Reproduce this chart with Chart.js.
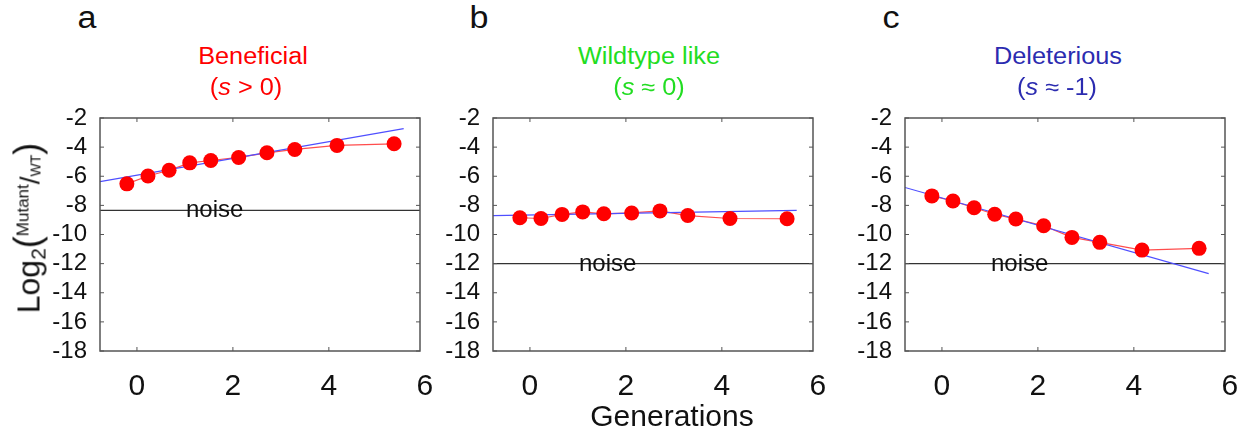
<!DOCTYPE html>
<html>
<head>
<meta charset="utf-8">
<script src="https://cdn.jsdelivr.net/npm/chart.js@4.4.1/dist/chart.umd.min.js"></script>
<style>
  body { margin: 0; background: #fff; }
  #wrap { position: relative; width: 1251px; height: 434px; overflow: hidden; background: #fff;
          font-family: "Liberation Sans", Arial, sans-serif; color: #111; }
  canvas { position: absolute; top: 98px; }
  .t { position: absolute; white-space: nowrap; line-height: 1; transform: translate(-50%, -50%) scaleX(1.1); }
  .letter { font-size: 31px; }
  .title { font-size: 23px; }
  .noise { position: absolute; white-space: nowrap; line-height: 1; font-size: 24px; color: #111;
           transform: translate(-50%, -50%); }
  #ylab { position: absolute; left: 29px; top: 228px; white-space: nowrap; line-height: 1;
          transform: translate(-50%, -50%) rotate(-90deg); font-size: 32px; }
  #ylab .sub2 { font-size: 21px; vertical-align: -6px; }
  #ylab .paren { font-size: 36px; }
  #ylab .sup { font-size: 17px; vertical-align: 11px; }
  #ylab .slash { font-size: 28px; }
  #ylab .wt { font-size: 14px; vertical-align: -1px; }
</style>
</head>
<body>
<div id="wrap">
  <canvas id="chartA" width="420" height="313" style="left:30px"></canvas>
  <canvas id="chartB" width="420" height="313" style="left:423px"></canvas>
  <canvas id="chartC" width="420" height="313" style="left:835px"></canvas>

  <div class="t letter" style="left:87px; top:17px">a</div>
  <div class="t letter" style="left:479px; top:17px">b</div>
  <div class="t letter" style="left:891px; top:17px">c</div>

  <div class="t title" style="left:253px; top:56px; color:#ff0000">Beneficial</div>
  <div class="t title" style="left:246px; top:87px; color:#ff0000">(<i>s</i> &gt; 0)</div>
  <div class="t title" style="left:649px; top:56px; color:#22dd22">Wildtype like</div>
  <div class="t title" style="left:649px; top:87px; color:#22dd22">(<i>s</i> ≈ 0)</div>
  <div class="t title" style="left:1058px; top:56px; color:#2b2bb0">Deleterious</div>
  <div class="t title" style="left:1057px; top:87px; color:#2b2bb0">(<i>s</i> ≈ -1)</div>

  <div class="noise" id="noiseA">noise</div>
  <div class="noise" id="noiseB">noise</div>
  <div class="noise" id="noiseC">noise</div>

  <div id="ylab">Log<span class="sub2">2</span><span class="paren">(</span><span class="sup">Mutant</span><span class="slash">/</span><span class="wt">WT</span><span class="paren">)</span></div>
  <div class="t" style="left:672px; top:416px; font-size:30px; transform:translate(-50%,-50%)">Generations</div>
</div>

<script>
// x positions of the samples (generations)
const generations = [-0.21, 0.23, 0.67, 1.10, 1.54, 2.12, 2.71, 3.29, 4.17, 5.36];

// log2(mutant/WT) per panel
const beneficial = [-6.52, -5.98, -5.59, -5.08, -4.92, -4.71, -4.39, -4.16, -3.88, -3.77];
const wildtype = [-8.85, -8.90, -8.62, -8.45, -8.58, -8.52, -8.38, -8.70, -8.90, -8.92];
const deleterious = [-7.35, -7.70, -8.16, -8.61, -8.94, -9.40, -10.20, -10.54, -11.07, -10.95];

// noise floor and fitted line ends, one per panel
const noiseLevels = [-8.35, -12, -12];
const noiseLabelX = 1.62;
const fitStart = [-6.37, -8.71, -6.77];
const fitEnd = [-2.73, -8.35, -12.69];
const fitEndX = 5.56;

const xMin = -0.77, xMax = 5.9;
const xTicks = [0, 2, 4, 6];
const yTicks = [-2, -4, -6, -8, -10, -12, -14, -16, -18];

// frame round the plot area with small inward ticks
const framePlugin = {
    id: 'frame',
    afterDraw(chart) {
        const { ctx, chartArea: a, scales } = chart;
        ctx.save();
        ctx.strokeStyle = '#555';
        ctx.lineWidth = 1.5;
        ctx.strokeRect(a.left, a.top, a.right - a.left, a.bottom - a.top);
        ctx.lineWidth = 1;
        ctx.beginPath();
        yTicks.forEach(v => {
            const y = scales.y.getPixelForValue(v);
            ctx.moveTo(a.left, y); ctx.lineTo(a.left + 4, y);
            ctx.moveTo(a.right, y); ctx.lineTo(a.right - 4, y);
        });
        xTicks.forEach(v => {
            if (v > xMax) return;
            const x = scales.x.getPixelForValue(v);
            ctx.moveTo(x, a.bottom); ctx.lineTo(x, a.bottom - 4);
            ctx.moveTo(x, a.top); ctx.lineTo(x, a.top + 4);
        });
        ctx.stroke();
        ctx.restore();
    }
};

function makePanel(id, values, idx, labelId) {
    const pts = generations.map((g, i) => ({ x: g, y: values[i] }));
    const canvas = document.getElementById(id);
    const chart = new Chart(canvas, {
        type: 'scatter',
        data: {
            datasets: [
                {
                    // markers on top
                    data: pts,
                    showLine: false,
                    pointRadius: 7.5,
                    pointBackgroundColor: '#ff0000',
                    pointBorderWidth: 0,
                    order: 0
                },
                {
                    // fitted line
                    data: [{ x: xMin, y: fitStart[idx] }, { x: fitEndX, y: fitEnd[idx] }],
                    showLine: true,
                    borderColor: '#4f4fff',
                    borderWidth: 1.2,
                    pointRadius: 0,
                    order: 1
                },
                {
                    // thin red line joining the points
                    data: pts,
                    showLine: true,
                    borderColor: '#ff4d4d',
                    borderWidth: 1.2,
                    pointRadius: 0,
                    order: 2
                },
                {
                    // noise floor
                    data: [{ x: xMin, y: noiseLevels[idx] }, { x: xMax, y: noiseLevels[idx] }],
                    showLine: true,
                    borderColor: '#333',
                    borderWidth: 1.3,
                    pointRadius: 0,
                    order: 3
                }
            ]
        },
        options: {
            responsive: false,
            animation: false,
            devicePixelRatio: 1,
            layout: { padding: { top: 20, right: 30, left: 0, bottom: 0 } },
            plugins: { legend: { display: false }, tooltip: { enabled: false } },
            scales: {
                x: {
                    type: 'linear',
                    min: xMin,
                    max: xMax,
                    afterBuildTicks: s => { s.ticks = xTicks.map(v => ({ value: v })); },
                    afterFit: s => { s.height = 60; },
                    grid: { display: false },
                    border: { display: false },
                    ticks: {
                        autoSkip: false,
                        maxRotation: 0,
                        padding: 10,
                        color: '#111',
                        font: { family: '"Liberation Sans", Arial, sans-serif', size: 30 }
                    }
                },
                y: {
                    min: -18,
                    max: -2,
                    afterBuildTicks: s => { s.ticks = yTicks.map(v => ({ value: v })); },
                    afterFit: s => { s.width = 70; },
                    grid: { display: false },
                    border: { display: false },
                    ticks: {
                        autoSkip: false,
                        padding: 5,
                        color: '#111',
                        font: { family: '"Liberation Sans", Arial, sans-serif', size: 24 }
                    }
                }
            }
        },
        plugins: [framePlugin]
    });

    // place the "noise" label on the noise line
    const lbl = document.getElementById(labelId);
    lbl.style.left = (canvas.offsetLeft + chart.scales.x.getPixelForValue(noiseLabelX)) + 'px';
    lbl.style.top = (canvas.offsetTop + chart.scales.y.getPixelForValue(noiseLevels[idx]) - 1) + 'px';
    return chart;
}

makePanel('chartA', beneficial, 0, 'noiseA');
makePanel('chartB', wildtype, 1, 'noiseB');
makePanel('chartC', deleterious, 2, 'noiseC');
</script>
</body>
</html>
